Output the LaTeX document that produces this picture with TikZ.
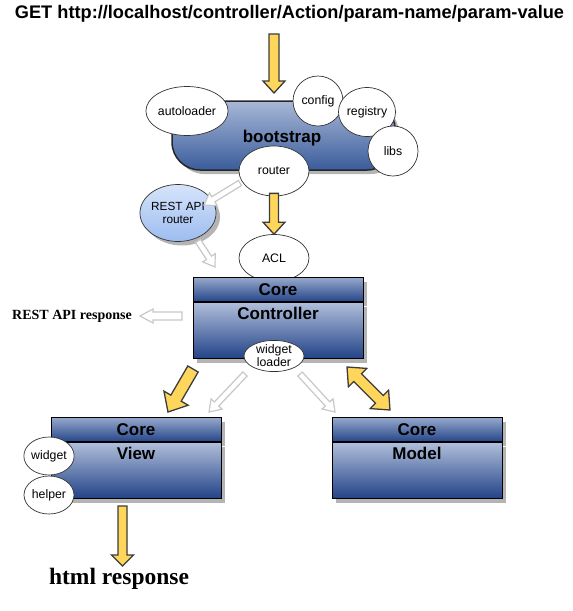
\documentclass[tikz,border=0pt]{standalone}
\usepackage{fontspec}
\setmainfont{Liberation Serif}
\setsansfont{Liberation Sans}
\usetikzlibrary{calc,shapes.geometric,shadows}

\definecolor{hdtop}{RGB}{150,168,204}
\definecolor{hdbot}{RGB}{38,70,137}
\definecolor{bdtop}{RGB}{176,190,218}
\definecolor{bdbot}{RGB}{34,67,136}
\definecolor{bstop}{RGB}{168,184,214}
\definecolor{bsbot}{RGB}{58,92,156}
\definecolor{rttop}{RGB}{214,228,250}
\definecolor{rtbot}{RGB}{156,188,240}
\definecolor{yel}{RGB}{255,214,92}
\definecolor{yelborder}{RGB}{60,60,60}
\definecolor{hollow}{RGB}{200,200,200}
\definecolor{shade}{RGB}{180,180,180}

\tikzset{
  ell/.style={ellipse, draw=black!80, line width=0.7pt, fill=white, inner sep=0pt,
    font=\sffamily\fontsize{12.3}{13}\selectfont, align=center},
  shad/.style={drop shadow={shadow xshift=4pt, shadow yshift=-4pt, fill=shade, opacity=1}},
  hdr/.style={rectangle, draw=black, line width=1pt, top color=hdtop, bottom color=hdbot,
    shad, font=\sffamily\bfseries\fontsize{17}{18}\selectfont, inner sep=0pt,
    minimum width=170pt, minimum height=24pt, anchor=north},
  bodybox/.style={rectangle, draw=black, line width=1pt, top color=bdtop, bottom color=bdbot,
    shad, inner sep=0pt, minimum width=170pt, minimum height=56pt, anchor=north},
  boxtitle/.style={font=\sffamily\bfseries\fontsize{17}{18}\selectfont, inner sep=0pt},
  yarrow/.style={fill=yel, draw=yelborder, line width=1.3pt, line join=miter},
  harrow/.style={fill=white, draw=hollow, line width=1.2pt, line join=miter},
}

% block arrow: [style]{start}{end}{shaft half width}{head half width}{head length}
\newcommand\blockarrow[6][]{%
  \coordinate (ba-h) at ($(#3)!#6!(#2)$);
  \draw[#1] ($(#2)!#4!90:(#3)$) -- ($(ba-h)!#4!-90:(#2)$) -- ($(ba-h)!#5!-90:(#2)$)
    -- (#3) -- ($(ba-h)!#5!90:(#2)$) -- ($(ba-h)!#4!90:(#2)$) -- ($(#2)!#4!-90:(#3)$) -- cycle;
}
\newcommand\dblblockarrow[6][]{%
  \coordinate (db-h1) at ($(#3)!#6!(#2)$);
  \coordinate (db-h2) at ($(#2)!#6!(#3)$);
  \draw[#1] (#2) -- ($(db-h2)!#5!90:(#3)$) -- ($(db-h2)!#4!90:(#3)$)
    -- ($(db-h1)!#4!-90:(#2)$) -- ($(db-h1)!#5!-90:(#2)$) -- (#3)
    -- ($(db-h1)!#5!90:(#2)$) -- ($(db-h1)!#4!90:(#2)$)
    -- ($(db-h2)!#4!-90:(#3)$) -- ($(db-h2)!#5!-90:(#3)$) -- cycle;
}

\begin{document}
\begin{tikzpicture}[x=1pt, y=-1pt]
\useasboundingbox (0,0) rectangle (573,611);

% title
\node[font=\sffamily\bfseries\fontsize{18.2}{20}\selectfont, inner sep=0pt] (title) at (289.5,14)
  {GET http://localhost/controller/Action/param-name/param-value};

% bootstrap cloud
\node[rectangle, rounded corners=28pt, draw=black!85, line width=1.5pt, top color=bstop,
  bottom color=bsbot, shad, minimum width=223pt, minimum height=69pt, inner sep=0pt,
  font=\sffamily\bfseries\fontsize{17}{18}\selectfont] (bootstrap) at (283.5,135.5) {};
\node[boxtitle] (bstext) at (282,138.5) {bootstrap};

\node[ell, minimum width=70pt, minimum height=49pt] (autoloader) at (187,111) {autoloader};
\node[ell, minimum width=50pt, minimum height=50pt] (config) at (318,101) {config};
\node[ell, minimum width=50pt, minimum height=49pt] (registry) at (367,112) {registry};
\node[ell, minimum width=50pt, minimum height=50pt] (libs) at (393,151) {libs};
\node[ell, minimum width=70pt, minimum height=50pt] (router) at (274,171) {router};

% REST API router
\node[ell, top color=rttop, bottom color=rtbot, shad, minimum width=62pt, minimum height=57pt,
  font=\sffamily\fontsize{11.8}{13.5}\selectfont] (restrouter) at (178,213) {REST API\\router};

% ACL
\node[ell, minimum width=70pt, minimum height=47pt] (acl) at (274,258) {ACL};

% Core Controller
\node[hdr] (ctrlhdr) at (278,277) {Core};
\node[bodybox] (ctrlbody) at (ctrlhdr.south) {};
\node[boxtitle] (ctrltext) at ($(ctrlbody.north)+(0,11)$) {Controller};
\node[ell, minimum width=60pt, minimum height=29pt, font=\sffamily\fontsize{12.3}{13}\selectfont]
  (wloader) at (274,356) {widget\\loader};

% Core View
\node[hdr] (viewhdr) at (136,417) {Core};
\node[bodybox] (viewbody) at (viewhdr.south) {};
\node[boxtitle] (viewtext) at ($(viewbody.north)+(0,11)$) {View};
\node[ell, minimum width=50pt, minimum height=38pt] (widget) at (49,456) {widget};
\node[ell, minimum width=50pt, minimum height=38pt] (helper) at (49,495) {helper};

% Core Model
\node[hdr] (modelhdr) at (417,417) {Core};
\node[bodybox] (modelbody) at (modelhdr.south) {};
\node[boxtitle] (modeltext) at ($(modelbody.north)+(0,11)$) {Model};

% texts
\node[font=\rmfamily\bfseries\fontsize{14}{16}\selectfont, inner sep=0pt, anchor=west]
  (restresp) at (12,316) {REST API response};
\node[font=\rmfamily\bfseries\fontsize{23.5}{26}\selectfont, inner sep=0pt]
  (htmlresp) at (119,579) {html response};

% arrow end points
\coordinate (a1s) at (274,34);
\coordinate (a1e) at (274,93);
\coordinate (a2s) at ($(router.south)+(0,-3)$);
\coordinate (a2e) at (acl.north);
\coordinate (g1s) at (240,183);
\coordinate (g1e) at (204,205);
\coordinate (g2s) at (198,241);
\coordinate (g2e) at (215,267);
\coordinate (g3s) at (182,316);
\coordinate (g3e) at (140,316);
\coordinate (g4s) at (245,374);
\coordinate (g4e) at (209,412);
\coordinate (g5s) at (300,374);
\coordinate (g5e) at (335,412);
\coordinate (y3s) at (193,369);
\coordinate (y3e) at (168,412);
\coordinate (y4s) at (347,367);
\coordinate (y4e) at (390,410);
\coordinate (y5s) at (122.5,506);
\coordinate (y5e) at (122.5,566);

% yellow arrows
\blockarrow[yarrow]{a1s}{a1e}{5pt}{11pt}{12pt}
\blockarrow[yarrow]{a2s}{a2e}{4.5pt}{11pt}{12pt}
\blockarrow[yarrow]{y3s}{y3e}{6pt}{14pt}{16pt}
\dblblockarrow[yarrow]{y4s}{y4e}{5.5pt}{13pt}{15pt}
\blockarrow[yarrow]{y5s}{y5e}{4.5pt}{11pt}{11pt}

% hollow gray arrows
\blockarrow[harrow]{g1s}{g1e}{3pt}{7.5pt}{11pt}
\blockarrow[harrow]{g2s}{g2e}{3pt}{7.5pt}{11pt}
\blockarrow[harrow]{g3s}{g3e}{4pt}{7pt}{13pt}
\blockarrow[harrow]{g4s}{g4e}{3pt}{7.5pt}{11pt}
\blockarrow[harrow]{g5s}{g5e}{3pt}{7.5pt}{11pt}
\end{tikzpicture}
\end{document}
